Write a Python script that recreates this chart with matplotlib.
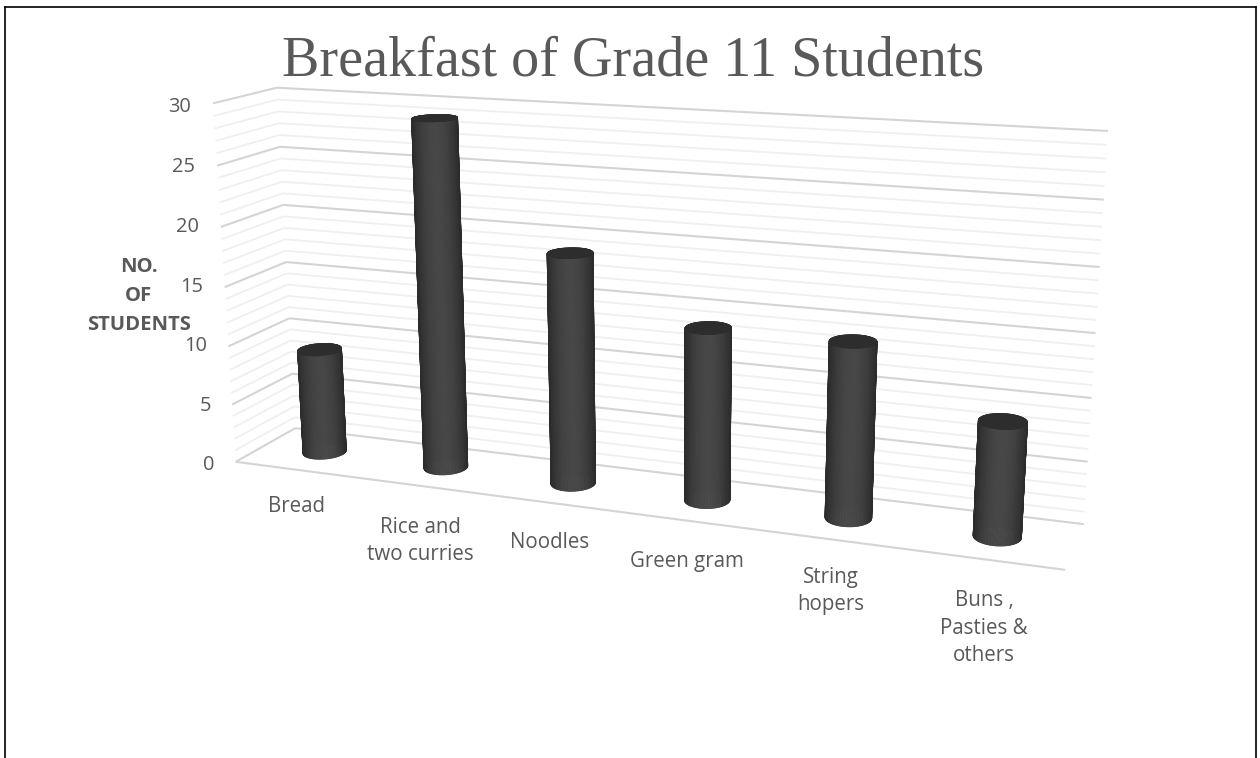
import numpy as np
import matplotlib
matplotlib.use("Agg")
import matplotlib.pyplot as plt
from matplotlib.lines import Line2D
from mpl_toolkits.mplot3d.art3d import Line3DCollection

categories = ["Bread", "Rice and\ntwo curries", "Noodles", "Green gram", "String\nhopers", "Buns ,\nPasties &\nothers"]
students = [9, 29, 19, 14, 14, 9]
y_ticks = [0, 5, 10, 15, 20, 25, 30]

W, H = 1260, 758
GREY = "#595959"

# camera: frame corners of the 3d box as seen in the picture -> solve the projection
box_pts = [(0, 0, 0), (0, 1, 0), (0, 0, 30), (0, 1, 30), (6, 1, 30), (6, 1, 0), (6, 0, 0)]
pix_pts = [(236, 462), (295, 428), (213, 103), (277, 88), (1108, 131), (1084, 524), (1065, 570)]

rows = []
rhs = []
for (X, Y, Z), (u, v) in zip(box_pts, pix_pts):
    v = H - v
    rows.append([X, Y, Z, 1, 0, 0, 0, 0, -u * X, -u * Y, -u * Z])
    rows.append([0, 0, 0, 0, X, Y, Z, 1, -v * X, -v * Y, -v * Z])
    rhs += [u, v]
sol = np.linalg.lstsq(np.array(rows, float), np.array(rhs, float), rcond=None)[0]
P = np.append(sol, 1.0).reshape(3, 4)

fig = plt.figure(figsize=(W / 100, H / 100), dpi=100)
ax = fig.add_axes([0, 0, 1, 1], projection="3d", computed_zorder=False)
ax.set_axis_off()


def picture_proj():
    # replaces the default camera, goes through the axes' own 2d transform
    to_data = ax.transData.inverted().get_matrix()
    p = to_data @ P
    return np.array([p[0], p[1], [0, 1, 0, 0], p[2]])


ax.get_proj = picture_proj


def screen_x(x, y, z):
    w = P[2, 0] * x + P[2, 1] * y + P[2, 2] * z + P[2, 3]
    return (P[0, 0] * x + P[0, 1] * y + P[0, 2] * z + P[0, 3]) / w


# wall and floor gridlines
segs_major, segs_minor = [], []
for z in range(0, 31):
    target = segs_major if z % 5 == 0 else segs_minor
    target.append([(0, 0, z), (0, 1, z)])
    target.append([(0, 1, z), (6, 1, z)])
segs_major.append([(0, 0, 0), (6, 0, 0)])
ax.add_collection3d(Line3DCollection(segs_minor, colors="#efefef", linewidths=1.3, zorder=1))
ax.add_collection3d(Line3DCollection(segs_major, colors="#d4d4d4", linewidths=1.5, zorder=2))

# cylinders
rx, ry = 0.155, 0.2
theta = np.linspace(0, 2 * np.pi, 97)
for i, val in enumerate(students):
    cx, cy = i + 0.5, 0.5
    xs = cx + rx * np.cos(theta)
    ys = cy + ry * np.sin(theta)
    X = np.array([xs, xs])
    Y = np.array([ys, ys])
    Z = np.array([np.zeros_like(theta), np.full_like(theta, val)])
    mid = (theta[:-1] + theta[1:]) / 2
    sx = screen_x(cx + rx * np.cos(mid), cy + ry * np.sin(mid), 0)
    t = (sx - (sx.max() + sx.min()) / 2) / ((sx.max() - sx.min()) / 2)
    shade = 0.165 + 0.115 * (1 - t ** 2)
    cols = np.zeros((1, len(mid), 4))
    cols[0, :, 0] = cols[0, :, 1] = cols[0, :, 2] = shade
    cols[0, :, 3] = 1
    side = ax.plot_surface(X, Y, Z, facecolors=cols, rstride=1, cstride=1, shade=False, linewidth=0.6, zorder=10 + i)
    side.set_edgecolor(side._facecolor3d)
    R = np.array([0, 1])[:, None]
    capx = cx + R * rx * np.cos(theta)
    capy = cy + R * ry * np.sin(theta)
    capz = np.full_like(capx, val)
    cap = ax.plot_surface(capx, capy, capz, color="#2d2d2d", rstride=1, cstride=1, shade=False, linewidth=0.6,
                          edgecolor="#2d2d2d", zorder=10.5 + i)

for a in ax.get_children():
    a.set_clip_on(False)


def put(px, py, s, **kw):
    fig.text(px / W, 1 - py / H, s, color=GREY, va="center", **kw)


put(633, 61, "Breakfast of Grade 11 Students", ha="center", family="Liberation Serif", fontsize=40.4)

for t in y_ticks:
    put(191 + (30 - t) / 30 * 24, 107.5 + (30 - t) / 30 * 358, str(t), ha="right", family="Open Sans", fontsize=14.4)

for s, ly in zip("NO.\nOF\nSTUDENTS".split("\n"), [267, 296, 325]):
    put(139, ly, s, ha="center", family="Open Sans", fontsize=14.6, fontweight="bold")

label_x = [296, 420, 550, 687, 831, 984]
label_y = [507, 541, 542, 562, 591, 628]
for s, lx, ly in zip(categories, label_x, label_y):
    put(lx, ly, s, ha="center", family="Open Sans", fontsize=14.8, linespacing=1.42)

# border of the page, open at the bottom
for xs, ys in [([5, 5], [758, 7]), ([5, 1256], [7, 7]), ([1256, 1256], [7, 758])]:
    fig.add_artist(Line2D([x / W for x in xs], [1 - y / H for y in ys], color="black", lw=1.2))

fig.savefig("out.png", dpi=100)
